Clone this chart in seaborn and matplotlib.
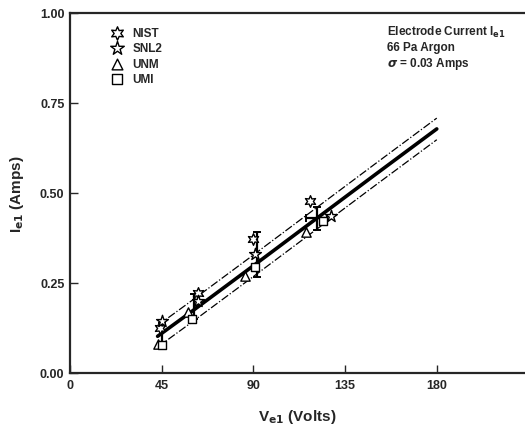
import pandas as pd
import numpy as np
import matplotlib
matplotlib.use("Agg")
import matplotlib.pyplot as plt
import seaborn as sns

# measured points (volts, amps)
nist_v = [44, 63, 90, 118]
nist_i = [0.125, 0.222, 0.373, 0.478]
snl2_v = [45, 63, 91, 128]
snl2_i = [0.145, 0.200, 0.330, 0.436]
unm_v = [43, 58, 86, 116]
unm_i = [0.080, 0.170, 0.270, 0.392]
umi_v = [45, 60, 91, 124]
umi_i = [0.078, 0.150, 0.295, 0.422]

# error bars on the cluster means
err_v = [45, 61, 92, 121]
err_i = [0.110, 0.185, 0.330, 0.430]
err_di = [0.028, 0.035, 0.062, 0.032]
err_dv = [0, 0, 0, 5]

# model curve and +/- sigma band
fit_v = [43, 60, 90, 120, 150, 180]
fit_i = [0.102, 0.172, 0.298, 0.425, 0.552, 0.678]
sigma = 0.03

sns.set_style("ticks")
plt.rcParams["font.family"] = ["Liberation Sans", "DejaVu Sans"]
plt.rcParams["font.weight"] = "bold"

fig = plt.figure(figsize=(5.25, 4.35), dpi=100)
ax = fig.add_axes([70 / 525, 61 / 435, 455 / 525, 360 / 435])

fit = pd.DataFrame({"V": fit_v, "I": fit_i})
sns.lineplot(x="V", y="I", data=fit, color="black", lw=2.6, ax=ax)
sns.lineplot(x=fit["V"], y=fit["I"] + sigma, color="black", lw=0.9, ls="-.", ax=ax)
sns.lineplot(x=fit["V"], y=fit["I"] - sigma, color="black", lw=0.9, ls="-.", ax=ax)

ax.errorbar(err_v, err_i, yerr=err_di, xerr=err_dv, fmt="none", ecolor="black",
            elinewidth=1.6, capsize=3, capthick=1.4)

groups = [
    ("NIST", nist_v, nist_i, (6, 1, 0), 70),
    ("SNL2", snl2_v, snl2_i, "*", 80),
    ("UNM", unm_v, unm_i, "^", 45),
    ("UMI", umi_v, umi_i, "s", 40),
]
for name, v, i, m, s in groups:
    sns.scatterplot(x=v, y=i, marker=m, s=s, facecolor="white", edgecolor="black",
                    linewidth=1.0, ax=ax, label=name, zorder=3)

ax.set_xlim(0, 223.3)
ax.set_ylim(0, 1.0)
ax.set_xticks([0, 45, 90, 135, 180])
ax.set_yticks([0, 0.25, 0.5, 0.75, 1.0])
ax.set_yticklabels(["0.00", "0.25", "0.50", "0.75", "1.00"])
ax.tick_params(direction="in", length=6, width=1, labelsize=9, pad=4)
for lab in ax.get_xticklabels() + ax.get_yticklabels():
    lab.set_fontweight("bold")
ax.spines["right"].set_visible(False)
for sp in ["left", "bottom", "top"]:
    ax.spines[sp].set_linewidth(1.6)

ax.set_xlabel(r"V$_{\mathbf{e1}}$ (Volts)", fontsize=11, fontweight="bold", labelpad=12)
ax.set_ylabel(r"I$_{\mathbf{e1}}$ (Amps)", fontsize=11, fontweight="bold", labelpad=10)

leg = ax.legend(loc="upper left", bbox_to_anchor=(0.06, 0.985), frameon=False,
                fontsize=8.5, handletextpad=0.3, labelspacing=0.3, borderpad=0.2,
                markerscale=1.15)
for t in leg.get_texts():
    t.set_fontweight("bold")

ax.text(0.697, 0.97, "Electrode Current I$_{\\mathbf{e1}}$\n66 Pa Argon\n$\\sigma$ = 0.03 Amps",
        transform=ax.transAxes, fontsize=8.5, fontweight="bold", va="top", ha="left",
        linespacing=1.2)

fig.savefig("out.png", dpi=100)
